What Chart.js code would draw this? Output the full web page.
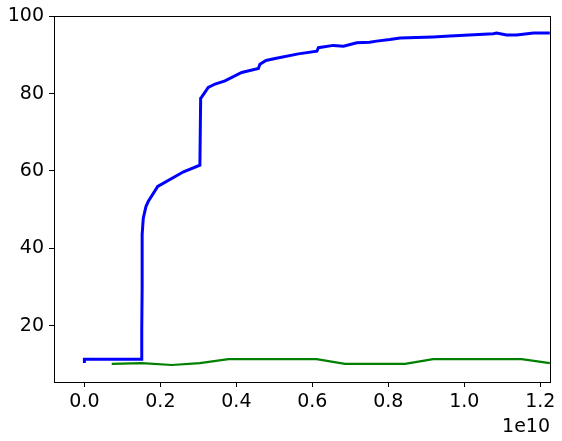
<!DOCTYPE html>
<html>
<head>
<meta charset="utf-8">
<script src="https://cdn.jsdelivr.net/npm/chart.js@4.4.0/dist/chart.umd.min.js"></script>
<style>
  html, body { margin: 0; padding: 0; background: #fff; }
  #wrap { width: 562px; height: 441px; }
</style>
</head>
<body>
<div id="wrap"><canvas id="grafico" width="562" height="441"></canvas></div>
<script>
// valores (x em unidades reais, eixo mostra 1e10)
const azulX = [0, 0, 1.51e9, 1.51e9, 1.52e9, 1.52e9, 1.55e9, 1.62e9, 1.68e9, 1.93e9, 2.61e9, 3.04e9,
  3.06e9, 3.09e9, 3.26e9, 3.44e9, 3.70e9, 4.14e9, 4.58e9, 4.62e9, 4.78e9, 5.02e9, 5.63e9, 6.12e9,
  6.16e9, 6.55e9, 6.82e9, 7.17e9, 7.51e9, 7.69e9, 8.04e9, 8.31e9, 9.18e9, 9.62e9, 10.76e9, 10.85e9,
  11.11e9, 11.38e9, 11.82e9, 12.25e9];
const azulY = [10.3, 11.3, 11.3, 18.8, 30.0, 43.6, 47.8, 50.8, 52.1, 56.0, 59.8, 61.5,
  78.8, 79.2, 81.6, 82.5, 83.3, 85.5, 86.5, 87.6, 88.6, 89.1, 90.3, 91.0,
  91.9, 92.5, 92.3, 93.2, 93.3, 93.6, 94.0, 94.4, 94.7, 94.9, 95.5, 95.7,
  95.2, 95.2, 95.7, 95.7];

const verdeX = [0.72e9, 1.51e9, 2.30e9, 3.04e9, 3.79e9, 6.11e9, 6.86e9, 8.44e9, 9.18e9, 11.51e9, 12.25e9];
const verdeY = [10.1, 10.3, 9.8, 10.3, 11.3, 11.3, 10.1, 10.1, 11.3, 11.3, 10.3];

const ticksX = [0, 0.2e10, 0.4e10, 0.6e10, 0.8e10, 1.0e10, 1.2e10];
const ticksY = [20, 40, 60, 80, 100];

function pontos(xs, ys) {
  var saida = [];
  for (var i = 0; i < xs.length; i++) {
    saida.push({ x: xs[i], y: ys[i] });
  }
  return saida;
}

// moldura completa + texto de deslocamento "1e10"
const molduraPlugin = {
  id: "moldura",
  afterDraw(chart) {
    const { ctx, chartArea: a } = chart;
    ctx.save();
    ctx.strokeStyle = "#000";
    ctx.lineWidth = 1;
    ctx.strokeRect(Math.round(a.left) + 0.5, Math.round(a.top) + 0.5,
      Math.round(a.right - a.left), Math.round(a.bottom - a.top));
    ctx.fillStyle = "#000";
    ctx.font = "19px 'DejaVu Sans'";
    ctx.textAlign = "right";
    ctx.textBaseline = "alphabetic";
    ctx.fillText("1e10", a.right, 432);
    ctx.restore();
  }
};

new Chart(document.getElementById("grafico"), {
  type: "line",
  data: {
    datasets: [
      {
        data: pontos(azulX, azulY),
        borderColor: "#0000ff",
        borderWidth: 3,
        pointRadius: 0,
        tension: 0,
        fill: false
      },
      {
        data: pontos(verdeX, verdeY),
        borderColor: "#008000",
        borderWidth: 2.2,
        pointRadius: 0,
        tension: 0,
        fill: false
      }
    ]
  },
  options: {
    responsive: false,
    animation: false,
    layout: { padding: { top: 13, right: 12, left: 0, bottom: 0 } },
    plugins: { legend: { display: false }, tooltip: { enabled: false } },
    scales: {
      x: {
        type: "linear",
        min: -0.08e10,
        max: 1.2255e10,
        afterBuildTicks: s => { s.ticks = ticksX.map(v => ({ value: v })); },
        afterFit: s => { s.height = 59; },
        grid: { drawOnChartArea: false, tickLength: 5, tickColor: "#000", tickWidth: 1 },
        border: { display: false },
        ticks: {
          color: "#000",
          padding: 4,
          maxRotation: 0,
          font: { family: "DejaVu Sans", size: 19 },
          callback: v => (v / 1e10).toFixed(1)
        }
      },
      y: {
        min: 5.4,
        max: 100,
        afterBuildTicks: s => { s.ticks = ticksY.map(v => ({ value: v })); },
        afterFit: s => { s.width = 54; },
        grid: { drawOnChartArea: false, tickLength: 5, tickColor: "#000", tickWidth: 1 },
        border: { display: false },
        ticks: {
          color: "#000",
          padding: 5,
          font: { family: "DejaVu Sans", size: 19 }
        }
      }
    }
  },
  plugins: [molduraPlugin]
});
</script>
</body>
</html>
